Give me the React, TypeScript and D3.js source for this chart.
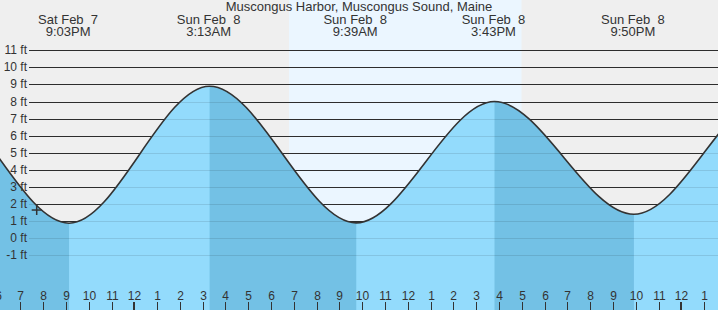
import React from "react";
import * as d3 from "d3";

const TITLE = "Muscongus Harbor, Muscongus Sound, Maine";

// Tide extremes (hours relative to midnight, Sun Feb 8) and heights in ft
// (first two and last two lie outside the visible window)
const tideHours = [-15.4, -9.2, -2.95, 3.2167, 9.65, 15.7167, 21.8333, 28.1, 34.3];
const tideFeet = [1.0, 8.7, 0.88, 8.9, 0.9, 8.0, 1.4, 8.8, 1.2];

// Labeled events shown at the top
const eventHours = [-2.95, 3.2167, 9.65, 15.7167, 21.8333];
const eventDates = ["Sat Feb  7", "Sun Feb  8", "Sun Feb  8", "Sun Feb  8", "Sun Feb  8"];
const eventTimes = ["9:03PM", "3:13AM", "9:39AM", "3:43PM", "9:50PM"];

// Daylight (sunrise, sunset)
const daylight = [6.7, 16.9];

// Current-time marker
const markerHour = -4.37;
const markerFeet = 1.65;

// Axis ticks
const yTicks = [-1, 0, 1, 2, 3, 4, 5, 6, 7, 8, 9, 10, 11];
const xTickHours = d3.range(-6, 26);

const W = 718;
const H = 310;
const FONT = "'Liberation Sans', Arial, sans-serif";
const TEXT = "#333";

export default function App() {
  const x = d3.scaleLinear().domain([0, 24]).range([136.3, 683.3]);
  const y = d3.scaleLinear().domain([-1, 11]).range([255.3, 50.3]);

  const pts: [number, number][] = tideHours.map((h, i) => [h, tideFeet[i]]);
  const area = d3
    .area<[number, number]>()
    .x((d) => x(d[0]))
    .y0(H)
    .y1((d) => y(d[1]))
    .curve(d3.curveMonotoneX);
  const line = d3
    .line<[number, number]>()
    .x((d) => x(d[0]))
    .y((d) => y(d[1]))
    .curve(d3.curveMonotoneX);

  // ebb intervals: from each high to following low
  const ebbs: [number, number][] = [];
  for (let i = 0; i < tideHours.length - 1; i++) {
    if (tideFeet[i] > tideFeet[i + 1]) ebbs.push([tideHours[i], tideHours[i + 1]]);
  }

  const gy = (v: number) => Math.round(y(v)) + 0.5;

  return (
    <svg
      width={W}
      height={H}
      style={{ position: "absolute", left: 0, top: 0, display: "block" }}
      fontFamily={FONT}
    >
      <defs>
        <clipPath id="water">
          <path d={area(pts) || ""} />
        </clipPath>
        <clipPath id="frame">
          <rect x={0} y={0} width={W} height={H} />
        </clipPath>
      </defs>
      <rect x={0} y={0} width={W} height={H} fill="#EFEFEF" />
      <rect
        x={x(daylight[0])}
        y={0}
        width={x(daylight[1]) - x(daylight[0])}
        height={H}
        fill="#EBF6FF"
      />
      {yTicks.map((v) => (
        <line key={"g" + v} x1={29} x2={W} y1={gy(v)} y2={gy(v)} stroke="#333" strokeWidth={1} />
      ))}
      <g clipPath="url(#frame)">
        <path d={area(pts) || ""} fill="#93DBFC" />
        <g clipPath="url(#water)">
          {ebbs.map((e, i) => (
            <rect
              key={"e" + i}
              x={x(e[0])}
              y={0}
              width={x(e[1]) - x(e[0])}
              height={H}
              fill="#73C1E5"
            />
          ))}
        </g>
        {yTicks.map((v) => (
          <line
            key={"f" + v}
            x1={29}
            x2={W}
            y1={gy(v)}
            y2={gy(v)}
            stroke="#000"
            strokeOpacity={0.1}
            strokeWidth={1}
          />
        ))}
        <path d={line(pts) || ""} fill="none" stroke="#333" strokeWidth={1.6} />
      </g>
      {yTicks.map((v) => (
        <text
          key={"l" + v}
          x={27}
          y={y(v) + 4}
          textAnchor="end"
          fontSize={12}
          fill={TEXT}
        >
          {v + " ft"}
        </text>
      ))}
      <text x={W / 2} y={11} textAnchor="middle" fontSize={13} fill={TEXT}>
        {TITLE}
      </text>
      {eventHours.map((h, i) => (
        <g key={"ev" + i}>
          <text x={x(h) - 1} y={24} textAnchor="middle" fontSize={13} fill={TEXT} style={{ whiteSpace: "pre" }}>
            {eventDates[i]}
          </text>
          <text x={x(h) - 1} y={36} textAnchor="middle" fontSize={13} fill={TEXT}>
            {eventTimes[i]}
          </text>
        </g>
      ))}
      {xTickHours.map((h) => {
        const tx = Math.round(x(h) - 2);
        const mid = ((h % 24) + 24) % 24 === 0;
        const lab = ((((h % 12) + 12) % 12) || 12).toString();
        return (
          <g key={"t" + h}>
            {mid ? (
              <rect x={tx - 1} y={302} width={2} height={8} fill="#333" />
            ) : (
              <line x1={tx + 0.5} x2={tx + 0.5} y1={302} y2={H} stroke="#333" strokeWidth={1} />
            )}
            <text x={tx + 0.5} y={300} textAnchor="middle" fontSize={12} fill={TEXT}>
              {lab}
            </text>
          </g>
        );
      })}
      <g stroke="#333" strokeWidth={1.5}>
        <line x1={x(markerHour) - 5} x2={x(markerHour) + 5} y1={y(markerFeet)} y2={y(markerFeet)} />
        <line x1={x(markerHour)} x2={x(markerHour)} y1={y(markerFeet) - 5} y2={y(markerFeet) + 5} />
      </g>
    </svg>
  );
}
